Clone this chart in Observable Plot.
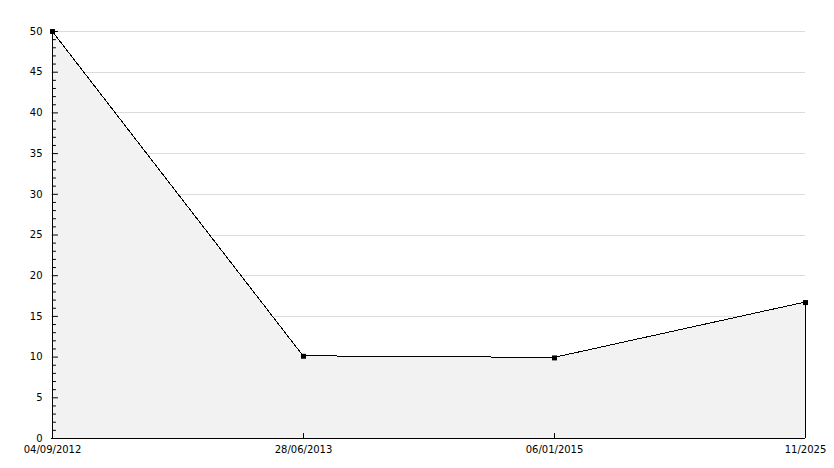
<!DOCTYPE html>
<html>
<head>
<meta charset="utf-8">
<script src="https://cdn.jsdelivr.net/npm/d3@7"></script>
<script src="https://cdn.jsdelivr.net/npm/@observablehq/plot@0.6"></script>
<style>
  html, body { margin: 0; padding: 0; background: #fff; }
  #chart svg { display: block; }
</style>
</head>
<body>
<div id="chart"></div>
<script>
const dates = ["04/09/2012", "28/06/2013", "06/01/2015", "11/2025"];
const values = [50, 10.1, 9.9, 16.7];
const majorTicks = [0, 5, 10, 15, 20, 25, 30, 35, 40, 45, 50];
const minorTicks = d3.range(0, 51).filter(v => v % 5 !== 0);
const innerXTicks = ["28/06/2013", "06/01/2015"];

const data = dates.map((d, i) => ({date: d, value: values[i]}));

const tickShape = {
  draw(context, l) {
    context.moveTo(0, 0);
    context.lineTo(0, -l);
  }
};

const chart = Plot.plot({
  width: 834,
  height: 468,
  marginLeft: 51,
  marginRight: 29,
  marginTop: 31,
  marginBottom: 30,
  style: {fontFamily: "DejaVu Sans", fontSize: "10px", color: "#000", background: "#fff"},
  x: {type: "point", domain: dates, padding: 0, label: null},
  y: {domain: [0, 50], label: null},
  marks: [
    Plot.ruleY(majorTicks.filter(v => v > 0), {stroke: "#dcdcdc", strokeOpacity: 1, shapeRendering: "crispEdges"}),
    Plot.areaY(data, {x: "date", y: "value", fill: "#f2f2f2", stroke: "#000", strokeWidth: 1, shapeRendering: "crispEdges"}),
    Plot.ruleY([0], {stroke: "#000", shapeRendering: "crispEdges"}),
    Plot.ruleX([dates[0]], {stroke: "#000", shapeRendering: "crispEdges"}),
    Plot.vector(majorTicks, {x: () => dates[0], y: d => d, rotate: 90, length: 5, anchor: "start", shape: tickShape, stroke: "#000", strokeWidth: 1}),
    Plot.vector(minorTicks, {x: () => dates[0], y: d => d, rotate: 90, length: 3, anchor: "start", shape: tickShape, stroke: "#000", strokeWidth: 1}),
    Plot.vector(innerXTicks, {x: d => d, y: () => 0, rotate: 0, length: 5, anchor: "start", shape: tickShape, stroke: "#000", strokeWidth: 1}),
    Plot.dot(data, {x: "date", y: "value", symbol: "square", r: 2.8, fill: "#000"}),
    Plot.axisY({ticks: majorTicks, tickSize: 0, tickPadding: 9, fill: "#000", label: null}),
    Plot.axisX({tickSize: 0, tickPadding: 7, fill: "#000", label: null})
  ]
});

document.getElementById("chart").appendChild(chart);
</script>
</body>
</html>
